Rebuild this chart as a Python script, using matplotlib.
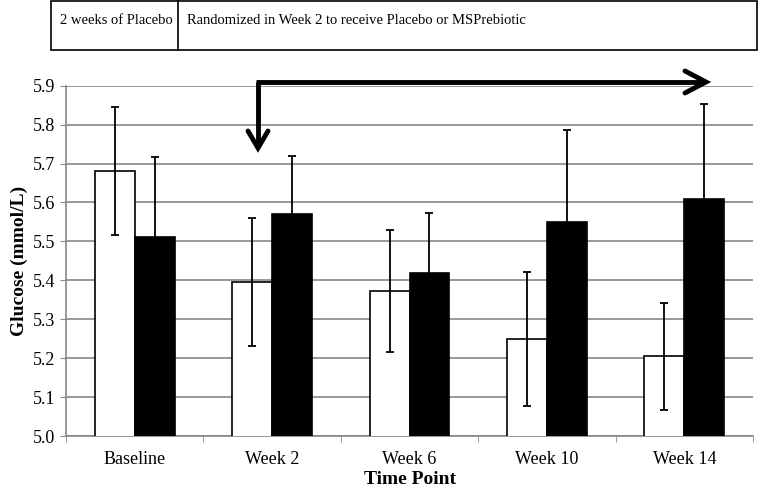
import numpy as np
import matplotlib.pyplot as plt
from matplotlib.patches import Rectangle

plt.rcParams['font.family'] = ['Liberation Serif', 'DejaVu Serif']

# Data
time_points = ['Baseline', 'Week 2', 'Week 6', 'Week 10', 'Week 14']
placebo = [5.68, 5.395, 5.372, 5.25, 5.205]
placebo_err = [0.164, 0.165, 0.157, 0.172, 0.137]
prebiotic = [5.51, 5.57, 5.42, 5.55, 5.61]
prebiotic_err = [0.207, 0.15, 0.153, 0.237, 0.242]
y_ticks = [5.0, 5.1, 5.2, 5.3, 5.4, 5.5, 5.6, 5.7, 5.8, 5.9]

fig = plt.figure(figsize=(7.58, 4.94), dpi=100)
ax = fig.add_axes([66 / 758, 1 - 436 / 494, (753 - 66) / 758, (436 - 85.7) / 494])

x = np.arange(len(time_points))
w = 0.29
ax.bar(x - w / 2, placebo, w, color='white', edgecolor='black', linewidth=1.2, zorder=3)
ax.bar(x + w / 2, prebiotic, w, color='black', edgecolor='black', linewidth=1.2, zorder=3)
ax.errorbar(x - w / 2, placebo, yerr=placebo_err, fmt='none', ecolor='black',
            elinewidth=1.3, capsize=3, capthick=1.3, zorder=4)
ax.errorbar(x + w / 2, prebiotic, yerr=prebiotic_err, fmt='none', ecolor='black',
            elinewidth=1.3, capsize=3, capthick=1.3, zorder=4)

ax.set_xlim(-0.5, len(time_points) - 0.5)
ax.set_ylim(5.0, 5.9)
ax.set_yticks(y_ticks)
ax.set_yticklabels([f'{v:.1f}' for v in y_ticks], fontsize=13)
ax.set_xticks(x)
ax.set_xticklabels(time_points, fontsize=13)
ax.set_xticks(np.arange(len(time_points) + 1) - 0.5, minor=True)
ax.tick_params(axis='x', which='major', length=0, pad=11)
ax.tick_params(axis='x', which='minor', length=4, color='#888888')
ax.tick_params(axis='y', length=4, color='#888888', pad=4)
ax.yaxis.grid(True, color='#888888', linewidth=1.2, zorder=0)
ax.set_axisbelow(True)
for s in ['top', 'right']:
    ax.spines[s].set_visible(False)
for s in ['left', 'bottom']:
    ax.spines[s].set_color('#888888')
    ax.spines[s].set_linewidth(1.2)

ax.set_ylabel('Glucose (mmol/L)', fontsize=14, fontweight='bold', labelpad=3)
ax.set_xlabel('Time Point', fontsize=14, fontweight='bold', labelpad=2)

# header boxes
fig.patches.append(Rectangle((51 / 758, 1 - 50 / 494), (757 - 51) / 758, 49 / 494,
                             transform=fig.transFigure, fill=False, edgecolor='black', linewidth=1.2))
fig.add_artist(plt.Line2D([178 / 758, 178 / 758], [1 - 50 / 494, 1], transform=fig.transFigure,
                          color='black', linewidth=1.2))
fig.text(60 / 758, 1 - 20 / 494, '2 weeks of Placebo', fontsize=10.5, va='center', ha='left')
fig.text(187 / 758, 1 - 20 / 494, 'Randomized in Week 2 to receive Placebo or MSPrebiotic',
         fontsize=10.5, va='center', ha='left')

# arrows
fig.add_artist(plt.Line2D([258 / 758, 258 / 758], [1 - 82 / 494, 1 - 146 / 494],
                          transform=fig.transFigure, color='black', linewidth=3.5,
                          solid_capstyle='butt'))
fig.add_artist(plt.Line2D([256.3 / 758, 704 / 758], [1 - 82 / 494, 1 - 82 / 494],
                          transform=fig.transFigure, color='black', linewidth=3.5,
                          solid_capstyle='butt'))
fig.add_artist(plt.Line2D([685 / 758, 706 / 758, 685 / 758],
                          [1 - 71 / 494, 1 - 82 / 494, 1 - 93 / 494],
                          transform=fig.transFigure, color='black', linewidth=3.5,
                          solid_joinstyle='miter', solid_capstyle='round'))
fig.add_artist(plt.Line2D([248 / 758, 258 / 758, 268 / 758],
                          [1 - 131 / 494, 1 - 148 / 494, 1 - 131 / 494],
                          transform=fig.transFigure, color='black', linewidth=3.5,
                          solid_joinstyle='miter', solid_capstyle='round'))

fig.savefig('out.png', dpi=100)
